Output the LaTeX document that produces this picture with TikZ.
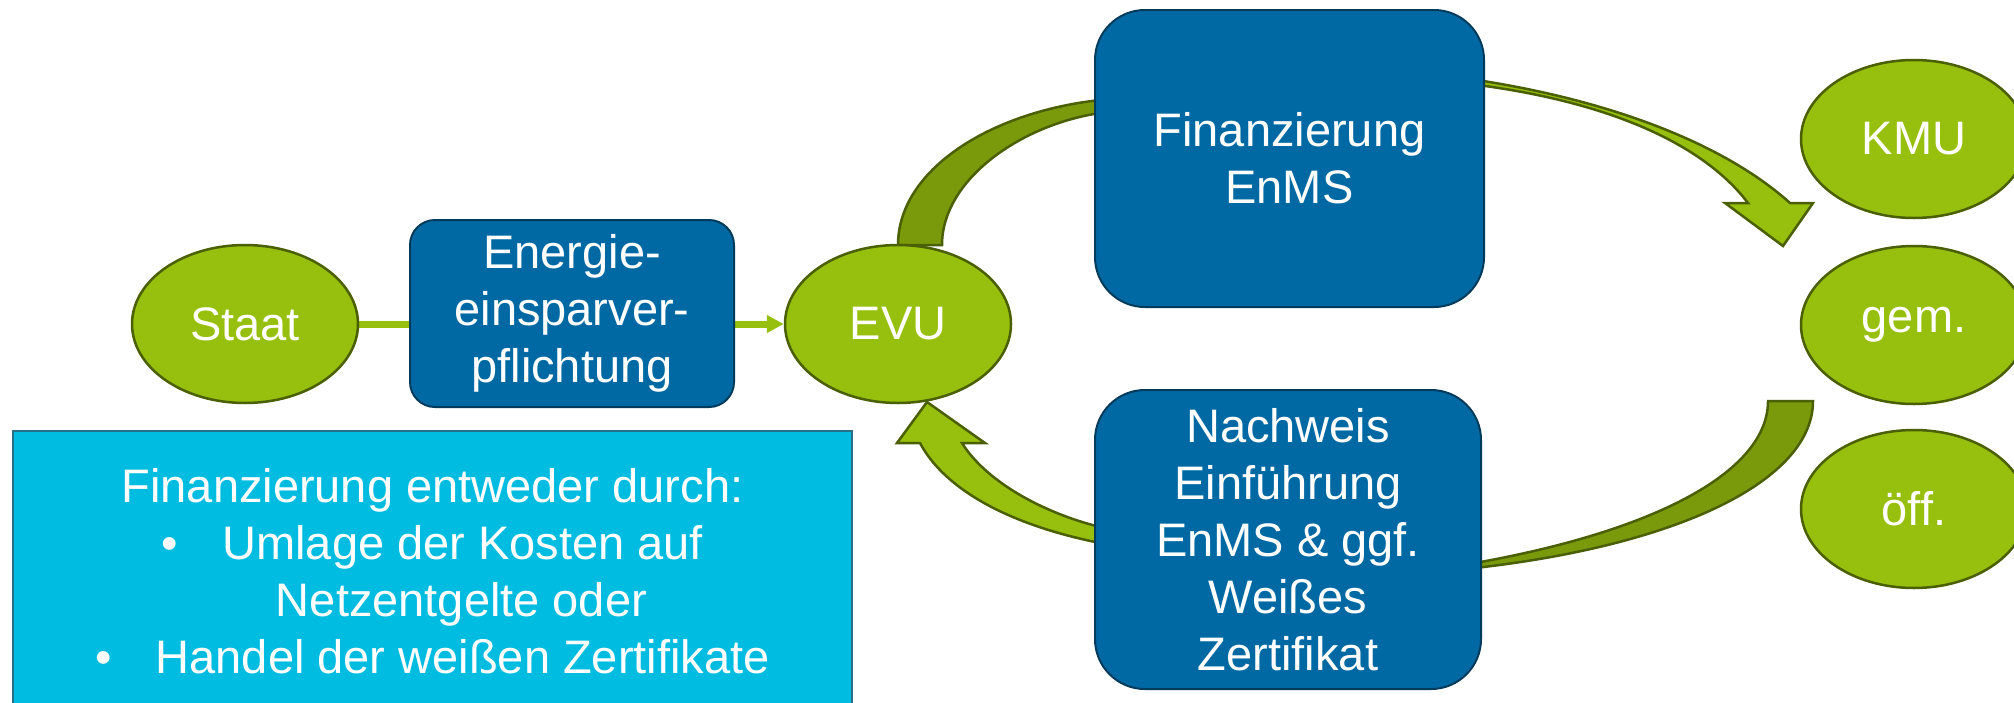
\documentclass[tikz,border=0pt]{standalone}
\usepackage{fontspec}
\setmainfont{Liberation Sans}
\usetikzlibrary{arrows.meta,shapes.geometric,backgrounds}

\definecolor{evugreen}{HTML}{97BF0D}
\definecolor{evuolive}{HTML}{7A9A0B}
\definecolor{evuedge}{HTML}{4B5F06}
\definecolor{enmsblue}{HTML}{0069A3}
\definecolor{enmsnavy}{HTML}{003B5C}
\definecolor{infocyan}{HTML}{00BCE0}
\definecolor{infoedge}{HTML}{2A6F88}

\tikzset{
  bigtext/.style={font=\fontsize{47}{57}\selectfont, text=white, align=center},
  actor/.style={ellipse, bigtext, fill=evugreen, draw=evuedge, line width=2.5pt,
    minimum width=226pt, minimum height=158pt, inner sep=0pt},
  stepbox/.style={rectangle, bigtext, fill=enmsblue, draw=enmsnavy, line width=2pt, inner sep=0pt},
  infobox/.style={rectangle, bigtext, fill=infocyan, draw=infoedge, line width=1.5pt, inner sep=0pt,
    minimum width=839pt, minimum height=281pt},
  ribbonlight/.style={fill=evugreen, draw=evuedge, line width=2.5pt},
  ribbondark/.style={fill=evuolive, draw=evuedge, line width=2.5pt},
  feedline/.style={draw=evugreen, line width=7pt, -{Triangle[length=17pt,width=17pt]}},
}

\begin{document}
\begin{tikzpicture}[x=1pt, y=-1pt]
    \useasboundingbox (0,0) rectangle (2014,702);

    % The actors
    \node[actor] (staat) at (245,324) {Staat};
    \node[actor] (evu) at (898,324) {EVU};
    \node[actor] (kmu) at (1914,139) {KMU};
    \node[actor] (gem) at (1914,325) {gem.};
    \node[actor] (oeff) at (1914,509) {öff.};

    % The boxes
    \node[stepbox, minimum width=324pt, minimum height=187pt, rounded corners=25pt] (pflicht) at (572,313.5)
        {Energie-\\einsparver-\\pflichtung};
    \node[stepbox, minimum width=389pt, minimum height=297pt, rounded corners=50pt] (finanz) at (1289.5,158.5)
        {Finanzierung\\EnMS};
    \node[stepbox, minimum width=386pt, minimum height=299pt, rounded corners=50pt] (nachweis) at (1288,539.5)
        {Nachweis\\Einführung\\EnMS \& ggf.\\Weißes\\Zertifikat};

    % The note
    \node[infobox] (info) at (432.5,571.5)
        {Finanzierung entweder durch:\\\textbullet\hspace{44pt}Umlage der Kosten auf\\\hspace{58pt}Netzentgelte oder\\\textbullet\hspace{44pt}Handel der weißen Zertifikate};

    \begin{scope}[on background layer]
        % Staat to EVU, behind the box
        \draw[feedline] (staat) -- (evu);

        % The upper ribbon
        \draw[ribbondark] (898,245) .. controls (898,170) and (990,112) .. (1100,100)
            -- (1100,113) .. controls (1020,125) and (942,180) .. (942,245) -- cycle;
        \draw[ribbonlight] (1470,79) .. controls (1600,98) and (1720,140) .. (1790,203)
            -- (1813,203) -- (1783,246) -- (1725,203) -- (1748,203)
            .. controls (1700,140) and (1600,100) .. (1470,84) -- cycle;

        % The lower ribbon
        \draw[ribbondark] (1813,401) .. controls (1813,480) and (1680,545) .. (1475,568)
            -- (1475,563) .. controls (1660,530) and (1768,470) .. (1768,401) -- cycle;
        \draw[ribbonlight] (1100,543) .. controls (1010,525) and (945,490) .. (920,443)
            -- (897,443) -- (927,402) -- (985,443) -- (962,443)
            .. controls (985,480) and (1040,512) .. (1100,527) -- cycle;
    \end{scope}
\end{tikzpicture}
\end{document}
